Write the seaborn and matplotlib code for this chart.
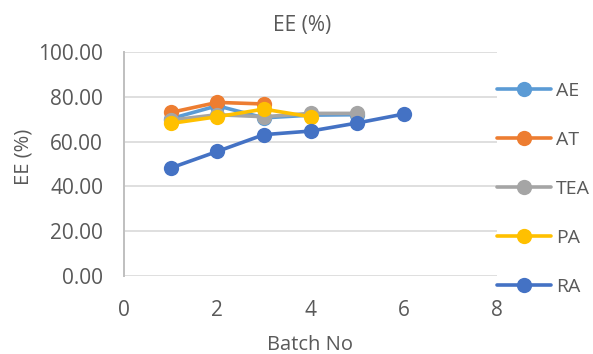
import matplotlib
matplotlib.use("Agg")
import matplotlib.pyplot as plt
import seaborn as sns
import pandas as pd

# Entrapment efficiency per batch for each formulation
batch_ae = [1, 2, 3, 4, 5]
ee_ae = [70.2, 76.0, 70.6, 71.8, 72.0]
batch_at = [1, 2, 3]
ee_at = [73.0, 77.5, 76.8]
batch_tea = [1, 2, 3, 4, 5]
ee_tea = [69.6, 72.0, 71.1, 72.6, 72.6]
batch_pa = [1, 2, 3, 4]
ee_pa = [68.1, 71.1, 74.5, 71.1]
batch_ra = [1, 2, 3, 4, 5, 6]
ee_ra = [48.2, 55.6, 63.1, 64.7, 68.3, 72.3]

series_names = ["AE", "AT", "TEA", "PA", "RA"]
colors = ["#5B9BD5", "#ED7D31", "#A5A5A5", "#FFC000", "#4472C4"]
y_ticks = [0, 20, 40, 60, 80, 100]
x_ticks = [0, 2, 4, 6, 8]

frames = []
for name, xs, ys in zip(series_names,
                        [batch_ae, batch_at, batch_tea, batch_pa, batch_ra],
                        [ee_ae, ee_at, ee_tea, ee_pa, ee_ra]):
    frames.append(pd.DataFrame({"Batch": xs, "EE": ys, "Series": name}))
df = pd.concat(frames, ignore_index=True)

sns.set_theme(style="white")
plt.rcParams["font.family"] = ["Open Sans", "DejaVu Sans"]
text_color = "#595959"

W, H = 593, 354
fig = plt.figure(figsize=(W / 100, H / 100), dpi=100)
ax = fig.add_axes([124 / W, 1 - 276 / H, (497 - 124) / W, (276 - 52) / H])

sns.lineplot(data=df, x="Batch", y="EE", hue="Series", hue_order=series_names,
             palette=colors, marker="o", markersize=11, markeredgewidth=0,
             linewidth=2.6, ax=ax, legend=True, sort=False)

ax.set_xlim(0, 8)
ax.set_ylim(0, 100)
ax.set_xticks(x_ticks)
ax.set_yticks(y_ticks)
ax.set_yticklabels([f"{v:.2f}" for v in y_ticks])
ax.tick_params(axis="both", length=0, labelsize=15, colors=text_color)
ax.tick_params(axis="y", pad=15)
ax.tick_params(axis="x", pad=17)
ax.yaxis.grid(True, color="#D9D9D9", linewidth=1.2)
ax.xaxis.grid(False)
for side in ["top", "right", "bottom"]:
    ax.spines[side].set_visible(False)
ax.spines["left"].set_color("#BFBFBF")
ax.spines["left"].set_linewidth(1.4)

ax.set_xlabel("")
ax.set_ylabel("")
fig.text(302 / W, 1 - 25 / H, "EE (%)", fontsize=15, color=text_color,
         ha="center", va="center")
fig.text(310 / W, 1 - 345 / H, "Batch No", fontsize=14.5, color=text_color,
         ha="center", va="center")
fig.text(23 / W, 1 - 157 / H, "EE (%)", fontsize=14.5, color=text_color,
         ha="center", va="center", rotation=90)

handles, labels = ax.get_legend_handles_labels()
ax.legend_.remove()
fig.legend(handles, labels, loc="upper left", bbox_to_anchor=(489 / W, 1 - 74 / H),
           frameon=False, fontsize=14, labelcolor=text_color,
           handlelength=2.78, handletextpad=0.26, labelspacing=1.6, borderaxespad=0)

fig.savefig("out.png", dpi=100)
